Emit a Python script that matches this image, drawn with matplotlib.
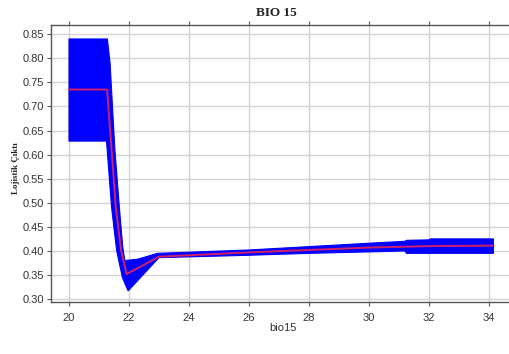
import numpy as np
import matplotlib.pyplot as plt

# Response curve for bio15: mean (red) and spread (blue band)
mean_x = [20.0, 21.27, 21.42, 21.56, 21.74, 21.92, 23.0, 26.0, 28.0, 30.0, 32.0, 34.15]
mean_y = [0.735, 0.735, 0.610, 0.490, 0.400, 0.352, 0.388, 0.397, 0.402, 0.407, 0.410, 0.411]

upper_x = [20.0, 21.28, 21.37, 21.53, 21.68, 21.79, 21.86, 22.3, 22.95, 26.0, 28.0, 30.0, 31.2, 31.25, 32.0, 32.05, 34.15]
upper_y = [0.840, 0.840, 0.790, 0.610, 0.490, 0.410, 0.380, 0.383, 0.395, 0.402, 0.409, 0.416, 0.420, 0.422, 0.423, 0.425, 0.425]

lower_x = [20.0, 21.25, 21.42, 21.59, 21.78, 21.97, 23.0, 26.0, 28.0, 30.0, 31.2, 31.25, 34.15]
lower_y = [0.628, 0.628, 0.490, 0.400, 0.345, 0.317, 0.386, 0.391, 0.395, 0.398, 0.400, 0.395, 0.395]

xticks = [20, 22, 24, 26, 28, 30, 32, 34]
yticks = [0.30, 0.35, 0.40, 0.45, 0.50, 0.55, 0.60, 0.65, 0.70, 0.75, 0.80, 0.85]

fig = plt.figure(figsize=(5.09, 3.54), dpi=100)
ax = fig.add_axes([51 / 509, 1 - 302 / 354, (515 - 51) / 509, (302 - 25) / 354])

# band as one polygon: upper edge forward, lower edge back
poly_x = np.r_[upper_x, lower_x[::-1]]
poly_y = np.r_[upper_y, lower_y[::-1]]
ax.fill(poly_x, poly_y, color='#0000ff', lw=0.8, ec='#0000ff', zorder=2)
ax.plot(mean_x, mean_y, color='#d0206a', lw=1.4, zorder=3)

ax.set_xlim(19.4, 34.87)
ax.set_ylim(0.294, 0.869)
ax.set_xticks(xticks)
ax.set_yticks(yticks)
ax.set_yticklabels([f'{v:.2f}' for v in yticks])
ax.grid(True, color='#d4d4d4', lw=1.0, zorder=0)
ax.set_axisbelow(True)

for side in ['left', 'bottom', 'top']:
    ax.spines[side].set_color('#555555')
    ax.spines[side].set_linewidth(1.0)
ax.spines['right'].set_visible(False)
ax.tick_params(axis='both', direction='out', length=3, width=0.8, color='#555555',
               labelsize=8, labelcolor='#333333', pad=2)
ax.tick_params(axis='x', top=True, pad=5)
for lab in ax.get_xticklabels() + ax.get_yticklabels():
    lab.set_fontfamily('Liberation Sans')

fig.text(276 / 509, 1 - 13 / 354, 'BIO 15', ha='center', va='center',
         fontfamily='Liberation Serif', fontweight='bold', fontsize=9.5, color='#222222')
fig.text(16 / 509, 1 - 168 / 354, 'Lojistik Çıktı', ha='center', va='center', rotation=90,
         fontfamily='Liberation Serif', fontweight='bold', fontsize=6.5, color='#222222')
fig.text(283 / 509, 1 - 328 / 354, 'bio15', ha='center', va='center',
         fontfamily='Liberation Sans', fontsize=8, color='#333333')

fig.savefig('out.png', dpi=100)
